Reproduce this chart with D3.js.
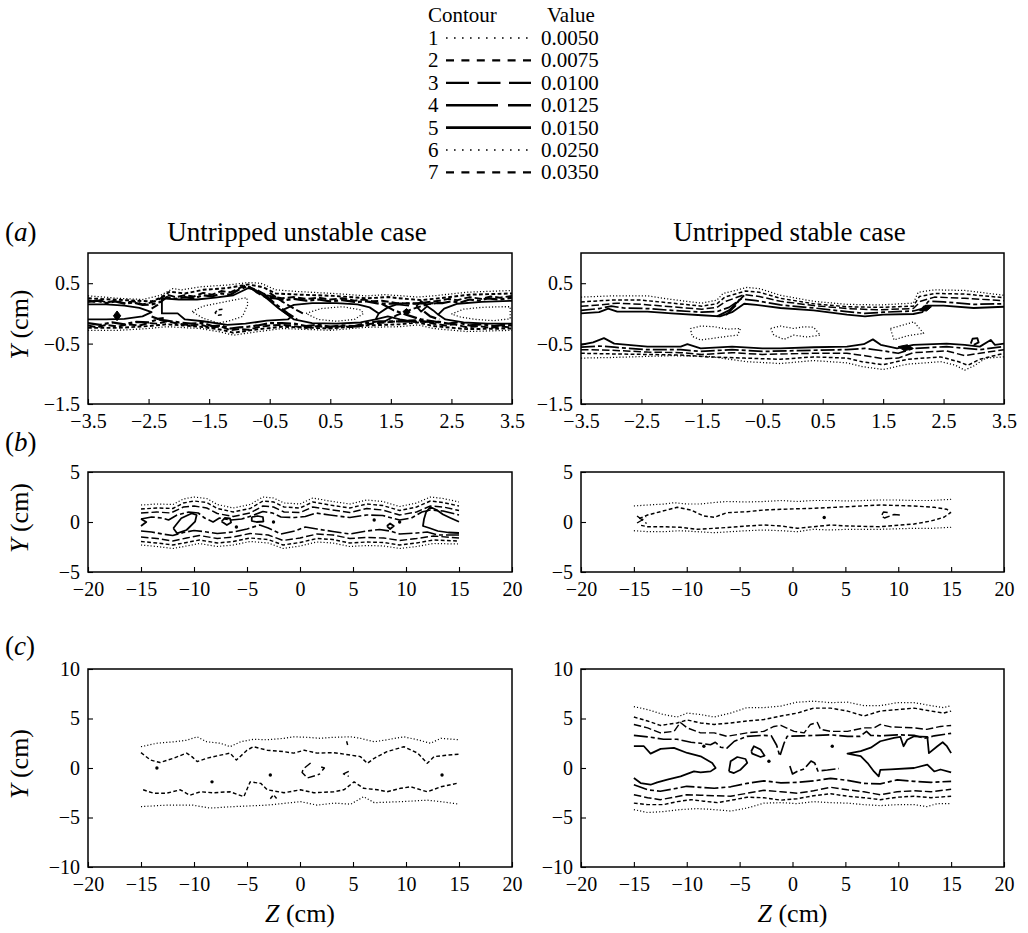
<!DOCTYPE html>
<html><head><meta charset="utf-8">
<script src="https://cdn.jsdelivr.net/npm/d3@7"></script>
<style>
body{margin:0;background:#fff;}
svg text{font-family:"Liberation Serif","Times New Roman",serif;fill:#000;}
</style></head><body>
<svg id="fig" width="1028" height="933" font-family="Liberation Serif"></svg>
<script>
// ---------- contour levels ----------
const contourIds = [1, 2, 3, 4, 5, 6, 7];
const contourValues = [0.0050, 0.0075, 0.0100, 0.0125, 0.0150, 0.0250, 0.0350];

const caseTitles = ["Untripped unstable case", "Untripped stable case"];
const rowLetters = ["a", "b", "c"];

const zTicksA = [-3.5, -2.5, -1.5, -0.5, 0.5, 1.5, 2.5, 3.5];
const yTicksA = [-1.5, -0.5, 0.5];
const zTicksBC = [-20, -15, -10, -5, 0, 5, 10, 15, 20];
const yTicksB = [-5, 0, 5];
const yTicksC = [-10, -5, 0, 5, 10];

// ---------- (a) unstable ----------
const aU_c1_top = [[-3.5,0.29],[-3.0,0.25],[-2.6,0.23],[-2.3,0.30],[-2.1,0.41],[-1.95,0.39],[-1.65,0.44],[-1.2,0.47],[-0.85,0.51],[-0.65,0.50],[-0.4,0.39],[0.0,0.36],[0.55,0.33],[1.1,0.29],[1.4,0.31],[1.7,0.29],[1.95,0.27],[2.2,0.29],[2.75,0.35],[3.5,0.38]];
const aU_c2_top = [[-3.5,0.25],[-3.1,0.23],[-2.7,0.21],[-2.45,0.2],[-2.3,0.26],[-2.15,0.36],[-1.9,0.33],[-1.6,0.39],[-1.2,0.42],[-0.85,0.48],[-0.6,0.43],[-0.4,0.33],[0.0,0.31],[0.55,0.29],[1.1,0.25],[1.45,0.27],[1.75,0.24],[2.0,0.22],[2.3,0.25],[2.8,0.31],[3.5,0.33]];
const aU_c3_top = [[-3.5,0.22],[-3.4,0.19],[-3.3,0.22],[-3.2,0.18],[-3.05,0.21],[-2.9,0.17],[-2.75,0.2],[-2.6,0.15],[-2.5,0.17],[-2.35,0.22],[-2.2,0.31],[-2.05,0.27],[-1.9,0.3],[-1.75,0.28],[-1.6,0.34],[-1.45,0.31],[-1.3,0.37],[-1.15,0.35],[-1.0,0.42],[-0.9,0.46],[-0.7,0.38],[-0.55,0.3],[-0.45,0.28],[-0.3,0.25],[-0.1,0.27],[0.1,0.24],[0.3,0.26],[0.5,0.23],[0.7,0.25],[0.9,0.21],[1.05,0.23],[1.2,0.2],[1.35,0.21],[1.6,0.17],[1.9,0.16],[2.3,0.21],[2.45,0.24],[2.6,0.22],[2.8,0.27],[3.0,0.24],[3.15,0.28],[3.3,0.26],[3.5,0.29]];
const aU_c4_top = [[-3.5,0.19],[-3.35,0.21],[-3.2,0.17],[-3.05,0.2],[-2.9,0.16],[-2.75,0.18],[-2.6,0.14],[-2.45,0.15],[-2.3,0.19],[-2.2,0.27],[-2.05,0.24],[-1.9,0.27],[-1.75,0.25],[-1.6,0.3],[-1.45,0.28],[-1.3,0.33],[-1.15,0.31],[-1.0,0.4],[-0.85,0.45],[-0.7,0.34],[-0.55,0.26],[-0.4,0.25],[-0.25,0.22],[-0.1,0.24],[0.1,0.21],[0.3,0.23],[0.5,0.2],[0.7,0.22],[0.9,0.19],[1.1,0.2],[1.3,0.16],[2.35,0.17],[2.5,0.2],[2.65,0.18],[2.8,0.23],[2.95,0.21],[3.1,0.25],[3.3,0.23],[3.5,0.26]];
const aU_c1_bot = [[-3.5,-0.28],[-3.0,-0.28],[-2.5,-0.25],[-2.2,-0.22],[-1.65,-0.25],[-1.3,-0.31],[-1.1,-0.36],[-0.75,-0.31],[-0.3,-0.25],[0.5,-0.28],[1.1,-0.23],[1.65,-0.22],[1.95,-0.19],[2.2,-0.25],[2.75,-0.3],[3.5,-0.28]];
const aU_c2_bot = [[-3.5,-0.24],[-3.0,-0.24],[-2.5,-0.21],[-2.2,-0.18],[-1.65,-0.22],[-1.3,-0.27],[-1.1,-0.32],[-0.75,-0.27],[-0.3,-0.22],[0.5,-0.25],[1.1,-0.2],[1.65,-0.18],[1.95,-0.15],[2.2,-0.21],[2.75,-0.26],[3.5,-0.25]];
const aU_c3_bot = [[-3.5,-0.2],[-3.35,-0.23],[-3.2,-0.19],[-3.0,-0.22],[-2.85,-0.18],[-2.65,-0.2],[-2.5,-0.16],[-2.35,-0.17],[-2.2,-0.13],[-2.0,-0.17],[-1.8,-0.2],[-1.65,-0.18],[-1.5,-0.23],[-1.3,-0.22],[-1.15,-0.28],[-1.0,-0.26],[-0.85,-0.27],[-0.7,-0.23],[-0.5,-0.2],[-0.3,-0.19],[-0.1,-0.21],[0.1,-0.24],[0.3,-0.21],[0.5,-0.24],[0.7,-0.21],[0.9,-0.23],[1.1,-0.18],[1.3,-0.16],[1.6,-0.13],[1.95,-0.11],[2.2,-0.17],[2.4,-0.2],[2.55,-0.18],[2.75,-0.23],[2.95,-0.21],[3.15,-0.24],[3.3,-0.22],[3.5,-0.23]];
const aU_c4_bot = [[-3.5,-0.16],[-3.3,-0.19],[-3.1,-0.15],[-2.9,-0.18],[-2.7,-0.14],[-2.5,-0.15],[-2.35,-0.1],[-2.2,-0.12],[-2.0,-0.15],[-1.8,-0.17],[-1.6,-0.16],[-1.45,-0.21],[-1.3,-0.2],[-1.15,-0.25],[-1.0,-0.23],[-0.85,-0.22],[-0.7,-0.2],[-0.5,-0.16],[-0.3,-0.16],[-0.1,-0.17],[0.1,-0.21],[0.3,-0.19],[0.5,-0.22],[0.7,-0.2],[0.9,-0.21],[1.1,-0.16],[1.3,-0.13],[2.3,-0.14],[2.45,-0.17],[2.6,-0.15],[2.8,-0.2],[3.0,-0.18],[3.2,-0.21],[3.35,-0.19],[3.5,-0.2]];
const aU_lobe1 = [[-3.5,0.15],[-3.2,0.15],[-2.9,0.13],[-2.65,0.09],[-2.45,0.02],[-2.6,-0.05],[-2.9,-0.09],[-3.2,-0.1],[-3.5,-0.1]];
const aU_lobe2 = [[-2.28,0.25],[-2.0,0.23],[-1.7,0.23],[-1.4,0.26],[-1.1,0.3],[-0.85,0.42],[-0.72,0.38],[-0.55,0.25],[-0.35,0.08],[-0.15,-0.06],[-0.2,-0.1],[-0.55,-0.12],[-0.9,-0.17],[-1.2,-0.19],[-1.6,-0.13],[-1.9,-0.1],[-2.02,0.0],[-2.28,0.0],[-2.28,0.25]];
const aU_lobe3 = [[-0.3,0.05],[-0.1,0.14],[0.2,0.17],[0.6,0.17],[0.95,0.15],[1.15,0.1],[1.3,0.0],[1.25,-0.1],[1.0,-0.15],[0.6,-0.17],[0.2,-0.16],[-0.1,-0.1],[-0.3,0.05]];
const aU_lobe4 = [[3.5,0.21],[3.0,0.19],[2.6,0.16],[2.38,0.08],[2.28,-0.02],[2.4,-0.1],[2.7,-0.15],[3.1,-0.17],[3.5,-0.17]];
const aU_core1 = [[-1.78,0.03],[-1.6,0.12],[-1.35,0.17],[-1.1,0.22],[-0.88,0.26],[-0.86,0.15],[-0.95,-0.05],[-1.15,-0.12],[-1.35,-0.16],[-1.6,-0.08],[-1.78,0.03]];
const aU_core2 = [[0.1,0.0],[0.35,0.08],[0.7,0.11],[1.0,0.06],[1.05,0.0],[0.9,-0.1],[0.6,-0.13],[0.3,-0.1],[0.1,0.0]];
const aU_core3 = [[2.5,-0.01],[2.7,0.07],[3.0,0.1],[3.3,0.11],[3.47,0.11],[3.47,-0.09],[3.2,-0.12],[2.9,-0.1],[2.65,-0.06],[2.5,-0.01]];
const aU_peak1 = [[-1.28,0.07],[-1.36,0.06],[-1.40,0.01],[-1.35,-0.03],[-1.28,-0.02]];
const aU_cross1 = [[-0.6,0.33],[-0.4,0.15],[-0.2,0.0],[-0.05,-0.1]];
const aU_cross2 = [[-0.5,0.34],[-0.3,0.2],[-0.1,0.08],[0.05,0.0]];
const aU_cross3 = [[-2.45,0.08],[-2.35,0.14],[-2.3,0.2]];
const aU_cross4 = [[-2.45,-0.05],[-2.35,-0.09],[-2.25,-0.08]];
const aU_cross5 = [[1.3,0.0],[1.45,0.1],[1.6,0.15],[1.8,0.13]];
const aU_cross6 = [[1.25,-0.1],[1.45,-0.05],[1.65,-0.1],[1.9,-0.14]];
const aU_cross7 = [[1.35,0.16],[1.55,0.05],[1.75,-0.02],[2.0,-0.1],[2.3,-0.15]];
const aU_cross8 = [[1.4,-0.13],[1.6,-0.03],[1.85,0.07],[2.1,0.15],[2.35,0.18]];
const aU_ring1 = [[1.92,0.12],[2.0,0.2],[2.1,0.12],[2.0,0.03],[1.92,0.12]];
const aU_cross9 = [[2.1,0.12],[2.2,0.05],[2.28,-0.02]];
const aU_cross10 = [[2.05,0.03],[2.15,-0.05],[2.3,-0.1]];
const aU_spot1 = [[-3.08,-0.04],[-3.02,0.04],[-2.96,-0.04],[-3.02,-0.12],[-3.08,-0.04]];
const aU_spot2 = [[1.7,0.03],[1.76,0.08],[1.82,0.02],[1.76,-0.03],[1.7,0.03]];

// ---------- (a) stable ----------
const aS_c1_top = [[-3.5,0.27],[-3.0,0.29],[-2.4,0.29],[-2.0,0.23],[-1.5,0.17],[-1.25,0.22],[-1.15,0.33],[-0.75,0.43],[-0.55,0.41],[-0.2,0.3],[0.35,0.2],[0.9,0.15],[1.45,0.14],[2.0,0.17],[2.08,0.35],[2.35,0.39],[2.85,0.38],[3.5,0.3]];
const aS_c2_top = [[-3.5,0.19],[-3.0,0.22],[-2.5,0.22],[-2.0,0.17],[-1.5,0.12],[-1.25,0.16],[-1.12,0.27],[-0.78,0.37],[-0.55,0.35],[-0.2,0.25],[0.35,0.16],[0.9,0.11],[1.45,0.1],[2.0,0.12],[2.1,0.28],[2.35,0.33],[2.85,0.32],[3.5,0.26]];
const aS_c3_top = [[-3.5,0.12],[-3.2,0.14],[-2.9,0.17],[-2.5,0.15],[-2.0,0.11],[-1.5,0.07],[-1.25,0.1],[-1.1,0.2],[-0.8,0.31],[-0.55,0.28],[-0.2,0.2],[0.35,0.13],[0.9,0.08],[1.4,0.06],[2.0,0.08],[2.12,0.2],[2.35,0.27],[2.85,0.25],[3.5,0.21]];
const aS_c4_top = [[-3.5,0.05],[-3.2,0.08],[-3.0,0.12],[-2.8,0.09],[-2.4,0.08],[-2.0,0.05],[-1.5,0.02],[-1.25,0.03],[-1.05,0.1],[-0.85,0.24],[-0.6,0.21],[-0.2,0.14],[0.35,0.09],[0.9,0.03],[1.2,0.0],[1.5,0.02],[2.0,0.04],[2.15,0.08],[2.25,0.2],[2.5,0.19],[3.0,0.15],[3.5,0.16]];
const aS_c5_top = [[-3.5,0.0],[-3.2,0.02],[-3.05,0.08],[-2.9,0.03],[-2.4,0.03],[-2.0,0.0],[-1.5,-0.03],[-1.2,-0.05],[-1.0,0.02],[-0.8,0.16],[-0.6,0.14],[-0.2,0.09],[0.35,0.05],[0.9,-0.02],[1.2,-0.05],[1.5,-0.02],[2.0,-0.01],[2.15,0.02],[2.2,0.13],[2.5,0.13],[3.0,0.09],[3.5,0.11]];
const aS_c5_bot = [[-3.5,-0.52],[-3.3,-0.48],[-3.12,-0.41],[-2.95,-0.5],[-2.4,-0.55],[-1.85,-0.55],[-1.74,-0.51],[-1.52,-0.58],[-1.0,-0.55],[-0.5,-0.58],[-0.2,-0.58],[0.35,-0.56],[0.9,-0.55],[1.18,-0.51],[1.33,-0.43],[1.46,-0.52],[1.73,-0.58],[2.0,-0.52],[2.55,-0.5],[2.85,-0.52],[3.1,-0.55],[3.28,-0.44],[3.35,-0.52],[3.5,-0.5]];
const aS_c4_bot = [[-3.5,-0.56],[-3.2,-0.54],[-2.95,-0.56],[-2.4,-0.6],[-1.85,-0.6],[-1.52,-0.63],[-1.0,-0.6],[-0.5,-0.63],[0.35,-0.61],[0.9,-0.6],[1.2,-0.58],[1.5,-0.62],[1.75,-0.66],[2.0,-0.58],[2.55,-0.55],[3.1,-0.6],[3.5,-0.55]];
const aS_c3_bot = [[-3.5,-0.6],[-3.0,-0.61],[-2.4,-0.64],[-1.85,-0.65],[-1.5,-0.68],[-1.0,-0.65],[-0.5,-0.68],[0.35,-0.66],[0.9,-0.66],[1.2,-0.7],[1.5,-0.75],[1.75,-0.74],[2.0,-0.65],[2.55,-0.62],[2.85,-0.7],[3.1,-0.66],[3.5,-0.6]];
const aS_c2_bot = [[-3.5,-0.66],[-3.0,-0.67],[-2.4,-0.68],[-1.85,-0.69],[-1.4,-0.72],[-0.8,-0.74],[-0.2,-0.76],[0.35,-0.72],[0.9,-0.74],[1.15,-0.8],[1.5,-0.85],[1.9,-0.76],[2.45,-0.72],[2.75,-0.8],[2.9,-0.86],[3.1,-0.76],[3.5,-0.66]];
const aS_c1_bot = [[-3.5,-0.74],[-3.0,-0.73],[-2.0,-0.7],[-1.4,-0.71],[-0.75,-0.8],[-0.2,-0.83],[0.35,-0.78],[0.9,-0.82],[1.15,-0.88],[1.5,-0.93],[1.9,-0.84],[2.45,-0.8],[2.7,-0.86],[2.85,-0.94],[3.0,-0.87],[3.2,-0.74],[3.5,-0.72]];
const aS_core1 = [[-1.69,-0.25],[-1.52,-0.21],[-1.3,-0.22],[-1.08,-0.26],[-0.86,-0.25],[-0.91,-0.36],[-1.08,-0.38],[-1.3,-0.41],[-1.52,-0.44],[-1.66,-0.38],[-1.69,-0.25]];
const aS_core2 = [[-0.36,-0.25],[-0.2,-0.21],[0.02,-0.25],[0.19,-0.22],[0.35,-0.23],[0.46,-0.36],[0.24,-0.39],[0.02,-0.36],[-0.14,-0.43],[-0.31,-0.36],[-0.36,-0.25]];
const aS_core3 = [[1.62,-0.25],[1.84,-0.19],[2.01,-0.14],[2.17,-0.33],[1.9,-0.37],[1.68,-0.44],[1.62,-0.25]];
const aS_cross1 = [[-1.25,-0.05],[-1.05,0.05],[-0.9,0.2],[-0.8,0.3]];
const aS_cross2 = [[-1.1,-0.03],[-0.95,0.12],[-0.85,0.27]];
const aS_ring1 = [[2.95,-0.5],[2.98,-0.42],[3.06,-0.41],[3.08,-0.48],[3.0,-0.52]];
const aS_spot1 = [[2.1,0.05],[2.17,0.12],[2.3,0.11],[2.22,0.04],[2.1,0.05]];
const aS_spot2 = [[1.75,-0.55],[1.9,-0.52],[2.0,-0.58],[1.85,-0.62],[1.75,-0.55]];

// ---------- (b) unstable ----------
const bU_c1_top = [[-15,1.7],[-13.5,1.8],[-12,1.75],[-11,2.3],[-10,2.5],[-8.8,2.35],[-7.8,1.75],[-6.3,1.4],[-4.7,1.75],[-3.5,2.5],[-2.5,2.4],[-1.5,1.9],[0,1.8],[1.2,2.4],[2.8,2.1],[4.7,1.8],[6.3,2.2],[7.8,2.05],[9.4,1.55],[11,1.9],[12.3,2.5],[13.5,2.35],[15,2.0]];
const bU_c2_top = [[-15,1.3],[-13.5,1.4],[-12,1.35],[-11,1.9],[-10,2.1],[-8.8,1.95],[-7.8,1.35],[-6.3,1.0],[-4.7,1.35],[-3.5,2.1],[-2.5,2.0],[-1.5,1.5],[0,1.4],[1.2,2.0],[2.8,1.7],[4.7,1.4],[6.3,1.8],[7.8,1.65],[9.4,1.15],[11,1.5],[12.3,2.1],[13.5,1.95],[15,1.6]];
const bU_c3_top = [[-15,0.9],[-13.5,1.0],[-12.2,0.9],[-11,1.5],[-10,1.6],[-8.8,1.4],[-7.8,0.85],[-6.3,0.55],[-4.7,0.9],[-3.5,1.6],[-2.5,1.5],[-1.5,1.0],[0,0.95],[1.2,1.5],[2.8,1.25],[4.7,0.95],[6.3,1.35],[7.8,1.2],[9.4,0.7],[11,1.0],[12.3,1.6],[13.5,1.5],[15,1.15]];
const bU_c4_top = [[-15,0.3],[-14,0.5],[-13,0.4],[-12.4,0.2],[-11.6,0.7],[-10.5,1.0],[-9.6,0.9],[-9,0.4],[-8.2,0.0],[-7.6,0.4],[-6.5,0.2],[-5.5,0.3],[-4.6,0.6],[-3.5,1.05],[-2.6,0.9],[-1.8,0.5],[-0.5,0.45],[0.5,0.55],[1.5,0.9],[2.8,0.7],[4.7,0.45],[6.3,0.7],[7.8,0.65],[9.4,0.2],[10.5,0.4],[11.5,1.0],[12.3,1.2],[13.5,1.1],[15,0.7]];
const bU_c4_bot = [[-15,-0.9],[-14,-1.0],[-13,-1.2],[-12,-1.35],[-11,-1.05],[-10,-0.85],[-8.8,-1.0],[-7.8,-1.15],[-6.3,-1.0],[-5,-0.7],[-3.8,-0.3],[-3,-0.6],[-1.8,-1.2],[-0.5,-0.9],[0.5,-0.5],[1.6,-0.7],[3.1,-0.95],[4.7,-1.2],[6.3,-0.9],[7.5,-0.75],[8.5,-0.9],[9.4,-1.2],[11,-1.1],[12,-1.0],[13,-1.3],[15,-1.3]];
const bU_c3_bot = [[-15,-1.5],[-13.5,-1.65],[-12,-1.9],[-10.7,-1.6],[-9.5,-1.35],[-7.8,-1.65],[-6.3,-1.5],[-4.7,-1.15],[-3,-1.3],[-1.6,-1.85],[0,-1.6],[1.6,-1.2],[3.1,-1.3],[4.7,-1.65],[6.3,-1.55],[7.9,-1.6],[9.4,-1.85],[11,-1.65],[12.6,-1.4],[15,-1.6]];
const bU_c2_bot = [[-15,-1.95],[-13.5,-2.1],[-12,-2.3],[-10.7,-2.05],[-9.5,-1.8],[-7.8,-2.1],[-6.3,-1.95],[-4.7,-1.6],[-3,-1.75],[-1.6,-2.3],[0,-2.05],[1.6,-1.65],[3.1,-1.75],[4.7,-2.1],[6.3,-2.0],[7.9,-2.05],[9.4,-2.3],[11,-2.1],[12.6,-1.8],[15,-1.9]];
const bU_c1_bot = [[-15,-2.3],[-13.5,-2.45],[-12,-2.65],[-10.7,-2.4],[-9.5,-2.15],[-7.8,-2.45],[-6.3,-2.3],[-4.7,-1.95],[-3,-2.1],[-1.6,-2.65],[0,-2.4],[1.6,-2.0],[3.1,-2.1],[4.7,-2.45],[6.3,-2.35],[7.9,-2.4],[9.4,-2.65],[11,-2.45],[12.6,-2.15],[15,-2.2]];
const bU_ring1 = [[-11.95,-0.63],[-11.2,0.37],[-10.2,0.87],[-9.75,0.7],[-9.9,0.03],[-10.7,-0.8],[-11.6,-1.13],[-11.95,-0.63]];
const bU_ring2 = [[-7.4,0.05],[-7.1,0.4],[-6.6,0.35],[-6.5,-0.05],[-6.9,-0.3],[-7.4,0.05]];
const bU_ring3 = [[-4.55,0.5],[-4.0,0.6],[-3.5,0.5],[-3.45,0.05],[-4.1,0.0],[-4.55,0.1],[-4.55,0.5]];
const bU_ring4 = [[8.2,-0.4],[8.5,-0.15],[8.85,-0.4],[8.5,-0.7],[8.2,-0.4]];
const bU_edge1 = [[-15,0.3],[-14.5,0.0],[-15,-0.4]];
const bU_edge2 = [[15,0.03],[14.2,0.4],[13.5,0.75],[12.9,1.2],[12.3,1.5],[11.9,1.0],[11.7,0.3],[11.6,-0.4],[12.2,-0.6],[13,-0.9],[14,-1.05],[15,-1.1]];
const bU_dots = [[-6.0,-0.5],[-2.5,0.0],[7.0,0.2],[9.4,0.0]];

// ---------- (b) stable ----------
const bS_c1_top = [[-15,1.6],[-13.7,1.7],[-12.1,1.8],[-11.2,1.93],[-10,1.8],[-8.7,1.8],[-7.4,1.95],[-6.2,2.05],[-4.3,2.0],[-2.7,2.05],[-1.1,2.15],[0.45,2.05],[2.0,2.15],[3.6,2.15],[5.2,2.1],[6.7,2.15],[8.3,2.2],[9.9,2.2],[11.5,2.15],[13.1,2.15],[15,2.27]];
const bS_c2_ring = [[-14.5,0.35],[-13.7,0.7],[-12.5,1.03],[-10.9,1.47],[-9.6,1.2],[-8.4,0.6],[-7.4,0.47],[-6.2,0.93],[-4.3,1.03],[-2.7,1.2],[-1.1,1.27],[2.0,1.37],[5.2,1.53],[8.3,1.7],[11.5,1.6],[13.4,1.47],[14.6,1.27],[14.95,0.93],[14.3,0.47],[13.1,0.1],[11.5,-0.2],[8.3,-0.47],[5.2,-0.4],[3.6,-0.3],[2.0,-0.47],[0.45,-0.63],[-1.1,-0.4],[-2.7,-0.3],[-4.3,-0.4],[-5.9,-0.53],[-7.4,-0.63],[-9.0,-0.73],[-10.6,-0.53],[-12.2,-0.47],[-13.7,-0.47],[-14.5,-0.3]];
const bS_c1_bot = [[-15,-0.87],[-13.7,-0.97],[-12.2,-0.97],[-10.6,-0.87],[-9.0,-0.97],[-7.4,-1.07],[-5.9,-0.97],[-4.3,-0.87],[-2.7,-0.8],[-1.1,-0.87],[0.45,-0.97],[2.0,-0.73],[3.6,-0.8],[5.2,-0.73],[8.3,-0.73],[11.5,-0.63],[13.1,-0.63],[15,-0.53]];
const bS_cross1 = [[-14.7,0.6],[-14.2,0.2],[-13.8,-0.15]];
const bS_cross2 = [[-14.7,-0.1],[-14.3,0.15],[-13.85,0.55]];
const bS_hook1 = [[9.0,0.95],[8.6,1.0],[8.4,0.6],[8.7,0.4],[9.2,0.6],[9.6,0.75],[10.2,0.7]];
const bS_dots = [[3.0,0.45]];

// ---------- (c) unstable ----------
const cU_c1_top = [[-15,2.15],[-13.5,2.5],[-11.9,2.65],[-10.7,2.8],[-9.7,3.15],[-8.8,2.65],[-7.5,2.5],[-6.6,2.15],[-5.6,2.65],[-4.4,2.9],[-3.1,2.85],[-1.5,3.0],[-0.6,3.15],[0.7,3.1],[1.9,3.0],[3.2,3.1],[4.8,3.15],[5.7,3.0],[7.0,2.65],[8.2,2.85],[9.8,3.15],[11.1,2.85],[12.3,2.5],[13.3,3.0],[15,2.85]];
const cU_c2_top = [[-15,1.55],[-14.1,0.8],[-13.2,0.55],[-11.9,1.0],[-10.7,1.5],[-10.2,1.15],[-9.7,0.65],[-8.8,0.98],[-7.5,1.3],[-6.6,1.5],[-6.0,0.8],[-5.0,1.8],[-4.4,2.15],[-3.1,1.8],[-1.5,1.65],[-0.6,1.5],[0.4,1.8],[1.6,1.5],[3.2,1.55],[4.8,1.3],[5.7,1.15],[6.35,0.47],[7.0,0.98],[8.2,1.65],[9.8,2.15],[11.1,1.5],[12.0,0.47],[12.65,1.15],[13.9,1.3],[15,1.4]];
const cU_c2_bot = [[-14.8,-2.2],[-13.8,-2.55],[-12.6,-2.55],[-11.3,-2.2],[-10.4,-2.75],[-9.4,-2.4],[-8.2,-2.5],[-6.6,-2.4],[-5.3,-2.9],[-4.7,-1.4],[-3.7,-1.55],[-3.1,-2.2],[-1.5,-2.5],[0.05,-2.2],[1.3,-2.5],[3.2,-2.4],[4.15,-2.2],[5.1,-1.4],[6.0,-2.05],[7.3,-2.2],[8.2,-2.4],[9.5,-2.05],[10.45,-1.9],[12.0,-2.4],[13.3,-1.9],[15,-1.5]];
const cU_c1_bot = [[-15,-3.9],[-12.6,-3.75],[-10.1,-3.75],[-8.5,-4.05],[-6.3,-3.9],[-3.1,-3.75],[0.05,-3.4],[1.6,-3.75],[3.2,-3.55],[4.8,-3.65],[6.0,-2.9],[7.0,-3.5],[9.5,-3.4],[12.0,-3.25],[13.3,-3.4],[15,-3.65]];
const cU_hook1 = [[1.0,0.5],[0.3,-0.1],[0.2,-0.45],[0.7,-1.0],[1.5,-0.75],[1.9,-0.6]];
const cU_hook2 = [[2.0,0.1],[2.3,0.0],[2.1,-0.25]];
const cU_hook3 = [[4.6,-0.35],[4.1,-0.6],[4.6,-0.85]];
const cU_tick1 = [[4.4,2.7],[4.5,2.3]];
const cU_tick2 = [[-2.8,-3.1],[-2.5,-2.7],[-2.2,-3.1]];
const cU_dots = [[-8.3,-1.4],[-2.8,-0.7],[13.4,-0.7],[-13.5,0.0]];

// ---------- (c) stable ----------
const cS_c1_top = [[-15,6.2],[-13.7,5.9],[-12.2,5.4],[-10.9,5.15],[-9.95,5.55],[-8.7,5.4],[-7.4,5.15],[-5.85,5.55],[-4.3,6.1],[-2.7,6.1],[-1.1,6.25],[0.45,6.65],[2.0,6.75],[3.6,6.6],[5.2,6.65],[6.75,6.3],[8.3,6.3],[9.9,6.6],[11.5,6.6],[13.1,6.3],[14.3,6.1],[15,6.3]];
const cS_c2_top = [[-15,5.15],[-13.7,4.75],[-12.5,4.3],[-10.9,4.55],[-9.95,4.85],[-8.7,4.55],[-7.4,4.4],[-5.85,4.55],[-4.3,4.75],[-2.7,4.9],[-1.1,5.25],[0.45,5.55],[2.0,6.05],[3.6,6.05],[5.2,5.75],[6.75,5.25],[7.7,5.55],[8.3,5.75],[9.9,5.9],[11.5,6.05],[13.1,5.75],[14.3,5.55],[15,5.75]];
const cS_c3_top = [[-15,4.4],[-13.7,4.05],[-12.5,3.55],[-11.2,3.7],[-10.6,4.6],[-9.95,4.05],[-8.7,3.55],[-7.4,3.55],[-6.2,3.2],[-4.3,3.55],[-2.7,3.7],[-1.75,4.2],[-1.1,4.3],[0.15,3.7],[1.1,3.55],[1.7,4.4],[2.35,4.6],[2.65,3.9],[3.6,3.7],[5.2,3.7],[6.75,4.05],[7.7,4.05],[8.3,4.4],[9.3,4.15],[11.5,4.05],[12.7,3.9],[14.0,4.2],[15,4.3]];
const cS_c4_top = [[-15,3.3],[-13.7,3.15],[-12.2,2.9],[-10.9,2.9],[-9.6,2.6],[-8.7,2.5],[-7.75,2.35],[-7.3,2.6],[-6.8,2.1],[-6.2,2.0],[-5.5,2.7],[-4.3,3.2],[-2.7,3.3],[-2.0,3.25],[-1.5,2.3],[-1.2,1.2],[-0.8,2.5],[-0.5,3.2],[0.9,3.25],[2.3,3.3],[3.6,3.35],[5.2,3.2],[6.4,3.2],[7.0,3.7],[7.4,3.3],[8.3,3.25],[9.9,3.35],[11.5,3.3],[12.5,3.0],[13.4,3.25],[15,3.5]];
const cS_c5_left = [[-15,2.2],[-14.05,2.2],[-13.42,1.45],[-12.47,1.93],[-11.21,2.03],[-9.95,1.52],[-8.69,1.18],[-7.59,0.51],[-7.27,0.0],[-7.75,-0.34],[-8.69,-0.44],[-9.32,-0.34],[-10.58,-0.84],[-11.84,-1.18],[-12.79,-1.45],[-13.42,-1.69],[-14.36,-1.52],[-15,-1.01]];
const cS_c5_right = [[15,1.5],[14.6,2.2],[14.2,2.6],[13.7,2.2],[12.9,1.5],[12.75,3.15],[11.5,3.2],[10.85,2.85],[10.5,2.2],[10.2,3.15],[9.6,3.05],[8.3,2.7],[7.4,2.05],[6.45,1.7],[5.2,1.45],[6.45,1.2],[7.1,0.5],[7.7,-0.35],[8.15,-0.85],[8.3,-0.2],[9.3,-0.15],[11.5,0.0],[12.75,0.35],[13.4,-0.35],[14.0,-0.15],[15,-0.45]];
const cS_ring1 = [[-6.01,-0.34],[-5.85,0.68],[-5.22,1.11],[-4.44,0.91],[-4.28,0.51],[-4.91,-0.17],[-5.54,-0.51],[-6.01,-0.34]];
const cS_ring2 = [[-3.9,1.69],[-3.65,2.2],[-3.02,1.86],[-2.64,1.25],[-3.02,1.11],[-3.81,1.45],[-3.9,1.69]];
const cS_wave1 = [[-0.25,0.2],[0.0,-0.6],[0.5,-0.3],[1.1,-0.1],[1.75,0.7],[2.1,0.5],[2.4,-0.3],[3.3,-0.2],[4.4,-0.05]];
const cS_c4_bot = [[-15,-1.7],[-13.7,-2.2],[-12.5,-2.35],[-11.2,-2.1],[-10.0,-1.85],[-8.7,-1.95],[-7.4,-2.05],[-5.85,-1.9],[-4.3,-1.55],[-2.7,-1.3],[-1.1,-1.5],[0.45,-1.45],[2.0,-1.3],[3.6,-1.05],[5.2,-1.25],[6.75,-1.55],[8.3,-1.6],[9.9,-1.2],[11.5,-1.35],[13.1,-1.45],[15,-1.35]];
const cS_c3_bot = [[-15,-2.7],[-13.7,-3.0],[-12.5,-3.2],[-11.2,-2.95],[-10.0,-2.7],[-8.7,-2.75],[-7.4,-2.8],[-5.85,-2.85],[-4.3,-2.55],[-2.7,-2.25],[-1.1,-2.4],[0.45,-2.55],[2.0,-2.3],[3.6,-1.95],[5.2,-2.2],[6.75,-2.4],[8.3,-2.7],[9.9,-2.4],[11.5,-2.3],[13.1,-2.4],[15,-2.15]];
const cS_c2_bot = [[-15,-3.55],[-13.7,-3.7],[-12.2,-3.7],[-10.9,-3.4],[-9.6,-3.2],[-8.4,-3.35],[-7.1,-3.5],[-5.5,-3.2],[-4.3,-2.95],[-2.7,-3.0],[-1.1,-3.25],[0.45,-3.1],[2.0,-2.8],[3.6,-2.6],[5.2,-2.85],[6.75,-3.0],[8.3,-3.2],[9.9,-2.95],[11.5,-2.85],[13.1,-3.0],[15,-2.85]];
const cS_c1_bot = [[-15,-4.2],[-13.7,-4.5],[-12.2,-4.4],[-10.6,-4.2],[-9.0,-4.1],[-7.4,-4.2],[-5.85,-4.35],[-4.3,-4.05],[-2.7,-3.55],[-1.1,-3.5],[0.45,-3.6],[2.0,-3.4],[3.6,-3.5],[5.2,-3.55],[6.75,-3.7],[8.3,-3.8],[9.9,-3.7],[11.5,-3.7],[12.7,-3.9],[13.7,-3.6],[15,-3.6]];
const cS_dots = [[-8.38,2.2],[3.76,2.2],[-2.23,0.68]];

// ---------- contour sets per panel: [contour id, points, closed/filled] ----------
const panelContours = {
  aU: [[1,aU_c1_top],[2,aU_c2_top],[3,aU_c3_top],[4,aU_c4_top],[1,aU_c1_bot],[2,aU_c2_bot],[3,aU_c3_bot],[4,aU_c4_bot],
       [5,aU_lobe1],[5,aU_lobe2],[5,aU_lobe3],[5,aU_lobe4],[6,aU_core1],[6,aU_core2],[6,aU_core3],[7,aU_peak1],
       [4,aU_cross1],[3,aU_cross2],[3,aU_cross3],[4,aU_cross4],[5,aU_cross5],[5,aU_cross6],[4,aU_cross7],[3,aU_cross8],
       [5,aU_ring1],[5,aU_cross9],[4,aU_cross10],[7,aU_spot1,"fill"],[7,aU_spot2,"fill"]],
  aS: [[1,aS_c1_top],[2,aS_c2_top],[3,aS_c3_top],[4,aS_c4_top],[5,aS_c5_top],[5,aS_c5_bot],[4,aS_c4_bot],[3,aS_c3_bot],[2,aS_c2_bot],[1,aS_c1_bot],
       [6,aS_core1],[6,aS_core2],[6,aS_core3],[5,aS_cross1],[4,aS_cross2],[5,aS_ring1],[7,aS_spot1,"fill"],[7,aS_spot2,"fill"]],
  bU: [[1,bU_c1_top],[2,bU_c2_top],[3,bU_c3_top],[4,bU_c4_top],[4,bU_c4_bot],[3,bU_c3_bot],[2,bU_c2_bot],[1,bU_c1_bot],
       [5,bU_ring1],[5,bU_ring2],[5,bU_ring3],[5,bU_ring4],[5,bU_edge1],[5,bU_edge2]],
  bS: [[1,bS_c1_top],[2,bS_c2_ring],[1,bS_c1_bot],[3,bS_cross1],[3,bS_cross2],[3,bS_hook1]],
  cU: [[1,cU_c1_top],[2,cU_c2_top],[2,cU_c2_bot],[1,cU_c1_bot],[3,cU_hook1],[3,cU_hook2],[3,cU_hook3],[2,cU_tick1],[2,cU_tick2]],
  cS: [[1,cS_c1_top],[2,cS_c2_top],[3,cS_c3_top],[4,cS_c4_top],[5,cS_c5_left],[5,cS_c5_right],[5,cS_ring1],[5,cS_ring2],[4,cS_wave1],
       [4,cS_c4_bot],[3,cS_c3_bot],[2,cS_c2_bot],[1,cS_c1_bot]]
};
const panelDots = {aU: [], aS: [], bU: bU_dots, bS: bS_dots, cU: cU_dots, cS: cS_dots};
// heavier pen for the packed dashed bands of the unstable (a) plot
const panelPen = {aU: 1.5, aS: 1.15, bU: 1.1, bS: 1.1, cU: 1.1, cS: 1.1};

// ---------- line styles for the seven contour ids ----------
const plotStyle = {
  1: {dash: "1.1,2.1", w: 1.1}, 2: {dash: "3.8,2.4", w: 1.3}, 3: {dash: "7.5,3", w: 1.3},
  4: {dash: "14,3,4,3", w: 1.5}, 5: {dash: null, w: 1.6}, 6: {dash: "1.1,2.1", w: 1.1}, 7: {dash: "3.8,2.4", w: 1.3}
};
const legendStyle = {
  1: {dash: "1.6,6.4", w: 1.6}, 2: {dash: "8,7.4", w: 2.2}, 3: {dash: "23,8.5", w: 2.2},
  4: {dash: "52,10", w: 2.4}, 5: {dash: null, w: 2.6}, 6: {dash: "1.6,6.4", w: 1.6}, 7: {dash: "8,7.4", w: 2.2}
};

// ---------- layout ----------
const colX = [[88, 512], [581, 1004]];
const rowY = {a: [253, 404], b: [472, 572], c: [669, 867]};
const rowDomains = {
  a: {z: [-3.5, 3.5], y: [-1.5, 1.0], zt: zTicksA, yt: yTicksA, fmt: d3.format(".1f")},
  b: {z: [-20, 20], y: [-5, 5], zt: zTicksBC, yt: yTicksB, fmt: d3.format("d")},
  c: {z: [-20, 20], y: [-10, 10], zt: zTicksBC, yt: yTicksC, fmt: d3.format("d")}
};
const SERIF = "Liberation Serif";
const TICK_FONT = 20;

const svg = d3.select("#fig");
const defs = svg.append("defs");

// ---------- legend ----------
const lg = svg.append("g").attr("class", "legend").attr("font-family", SERIF);
lg.append("text").attr("x", 428).attr("y", 22).attr("font-size", 21).text("Contour");
lg.append("text").attr("x", 547).attr("y", 22).attr("font-size", 21).text("Value");
const rowStep = 22.4;
contourIds.forEach((id, i) => {
  const base = 45 + i * rowStep;
  lg.append("text").attr("x", 428).attr("y", base).attr("font-size", 21).text(id);
  const st = legendStyle[id];
  lg.append("line").attr("x1", 446).attr("x2", 531).attr("y1", base - 7).attr("y2", base - 7)
    .attr("stroke", "#000").attr("stroke-width", st.w).attr("stroke-dasharray", st.dash);
  lg.append("text").attr("x", 541).attr("y", base).attr("font-size", 21).text(d3.format(".4f")(contourValues[i]));
});

// ---------- panels ----------
function drawPanel(row, col, key) {
  const dom = rowDomains[row];
  const [x0, x1] = colX[col];
  const [yTop, yBot] = rowY[row];
  const x = d3.scaleLinear().domain(dom.z).range([x0, x1]);
  const y = d3.scaleLinear().domain(dom.y).range([yBot, yTop]);
  const g = svg.append("g").attr("class", "panel-" + key);
  const pen = panelPen[key];

  const clipId = "clip-" + key;
  defs.append("clipPath").attr("id", clipId).append("rect")
    .attr("x", x0).attr("y", yTop).attr("width", x1 - x0).attr("height", yBot - yTop);

  const line = d3.line().x(d => x(d[0])).y(d => y(d[1]));
  const cg = g.append("g").attr("clip-path", `url(#${clipId})`);
  panelContours[key].forEach(([id, pts, mode]) => {
    const st = plotStyle[id];
    const p = cg.append("path").attr("d", line(pts) + (mode === "fill" ? "Z" : ""))
      .attr("stroke", "#000").attr("stroke-linejoin", "round");
    if (mode === "fill") {
      p.attr("fill", "#000").attr("stroke-width", 1);
    } else {
      // dashed band levels take the panel's pen; solid and core lines stay fine
      const w = (id >= 2 && id <= 4) ? st.w * pen : st.w * Math.min(pen, 1.15);
      p.attr("fill", "none").attr("stroke-width", w).attr("stroke-dasharray", st.dash);
    }
  });
  cg.selectAll("circle.dot").data(panelDots[key]).join("circle").attr("class", "dot")
    .attr("cx", d => x(d[0])).attr("cy", d => y(d[1])).attr("r", 1.7).attr("fill", "#000");

  // frame
  g.append("rect").attr("x", x0).attr("y", yTop).attr("width", x1 - x0).attr("height", yBot - yTop)
    .attr("fill", "none").attr("stroke", "#000").attr("stroke-width", 1.5);

  // bottom axis, ticks pointing inward
  const xa = g.append("g").attr("transform", `translate(0,${yBot})`)
    .call(d3.axisBottom(x).tickValues(dom.zt).tickSizeInner(-5).tickSizeOuter(0).tickPadding(10).tickFormat(dom.fmt));
  xa.attr("font-family", SERIF).attr("font-size", TICK_FONT);
  xa.select(".domain").remove();
  xa.selectAll("text").attr("font-family", SERIF).attr("font-size", TICK_FONT).attr("fill", "#000");
  xa.selectAll("line").attr("stroke-width", 1.1);

  // left axis, ticks pointing inward
  const ya = g.append("g").attr("transform", `translate(${x0},0)`)
    .call(d3.axisLeft(y).tickValues(dom.yt).tickSizeInner(-5).tickSizeOuter(0).tickPadding(8).tickFormat(dom.fmt));
  ya.attr("font-family", SERIF).attr("font-size", TICK_FONT);
  ya.select(".domain").remove();
  ya.selectAll("text").attr("font-family", SERIF).attr("font-size", TICK_FONT).attr("fill", "#000");
  ya.selectAll("line").attr("stroke-width", 1.1);
}

["a", "b", "c"].forEach(row => {
  drawPanel(row, 0, row + "U");
  drawPanel(row, 1, row + "S");
});

// ---------- titles and labels ----------
const letterBase = {a: 241, b: 451, c: 655};
rowLetters.forEach(r => {
  const t = svg.append("text").attr("x", 5).attr("y", letterBase[r]).attr("font-size", 27).attr("font-family", SERIF);
  t.append("tspan").text("(");
  t.append("tspan").attr("font-style", "italic").text(r);
  t.append("tspan").text(")");
});
caseTitles.forEach((s, i) => {
  svg.append("text").attr("x", (colX[i][0] + colX[i][1]) / 2 - 3).attr("y", 241).attr("font-family", SERIF)
    .attr("text-anchor", "middle").attr("font-size", 27).text(s);
});
Object.keys(rowY).forEach(r => {
  const cy = (rowY[r][0] + rowY[r][1]) / 2 - 4;
  const t = svg.append("text").attr("transform", `translate(28,${cy}) rotate(-90)`).attr("font-family", SERIF)
    .attr("text-anchor", "middle").attr("font-size", 26);
  t.append("tspan").attr("font-style", "italic").text("Y");
  t.append("tspan").text(" (cm)");
});
colX.forEach(([a, b]) => {
  const t = svg.append("text").attr("x", (a + b) / 2).attr("y", 922).attr("font-family", SERIF)
    .attr("text-anchor", "middle").attr("font-size", 26);
  t.append("tspan").attr("font-style", "italic").text("Z");
  t.append("tspan").text(" (cm)");
});
</script>
</body></html>
